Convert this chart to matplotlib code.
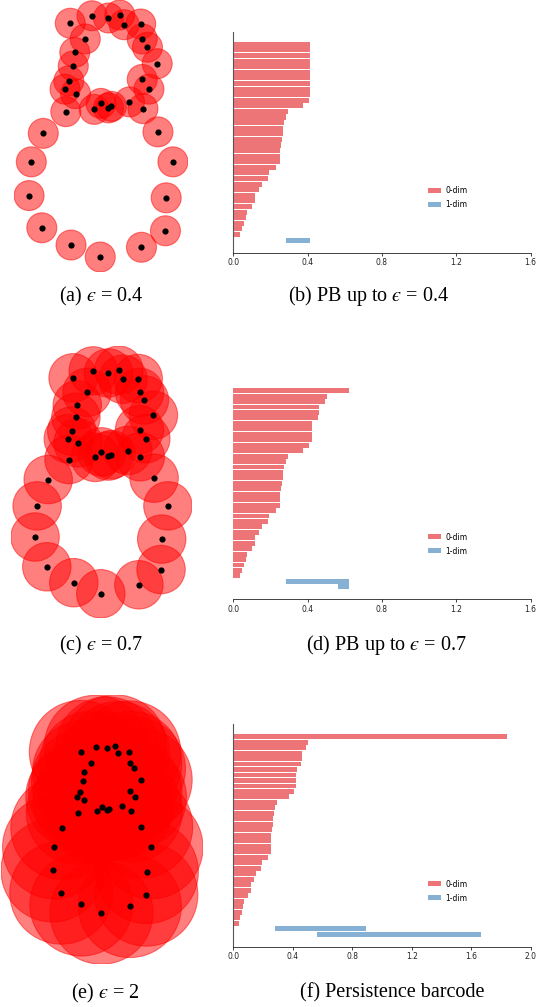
import numpy as np
import matplotlib
matplotlib.use("Agg")
import matplotlib.pyplot as plt
from matplotlib.patches import Circle

# point cloud (figure-eight shaped sample)
pts_x = [-0.40, -0.11, 0.11, 0.26, 0.32, 0.54, -0.20, 0.56, 0.63, -0.34,
         -0.36, 0.76, -0.42, 0.56, -0.47, -0.33, 0.65, 0.01, 0.11, 0.15,
         -0.08, 0.39, 0.57, -0.46, -0.76, 0.77, -0.92, 0.97, -0.95, 0.88,
         -0.78, 0.87, -0.39, 0.00, 0.55]
pts_y = [1.50, 1.60, 1.57, 1.61, 1.48, 1.49, 1.29, 1.29, 1.18, 1.11,
         0.93, 0.96, 0.73, 0.75, 0.62, 0.56, 0.62, 0.43, 0.37, 0.39,
         0.35, 0.45, 0.36, 0.32, 0.03, 0.05, -0.35, -0.35, -0.80, -0.83,
         -1.23, -1.27, -1.46, -1.62, -1.49]

eps_vals = [0.4, 0.7, 2]

# persistence barcode: 0-dim bars all born at 0
dim0_death = [1.84, 0.503, 0.491, 0.462, 0.462, 0.455, 0.426, 0.421, 0.421, 0.421,
              0.408, 0.375, 0.294, 0.281, 0.273, 0.267, 0.267, 0.261, 0.254, 0.253,
              0.253, 0.253, 0.232, 0.193, 0.186, 0.153, 0.140, 0.118, 0.118, 0.100,
              0.073, 0.066, 0.058, 0.046, 0.037]
dim1_birth = [0.281, 0.564]
dim1_death = [0.892, 1.666]
bar_cutoff = [0.41, 0.62, None]
bar_xmax = [1.6, 1.6, 2.0]

EPS = "$\u03f5$"
captions_left = [f"(a) {EPS} = 0.4", f"(c) {EPS} = 0.7", f"(e) {EPS} = 2"]
captions_right = [f"(b) PB up to {EPS} = 0.4", f"(d) PB up to {EPS} = 0.7",
                  "(f) Persistence barcode"]

plt.rcParams["mathtext.fontset"] = "stix"

W, H = 549, 1007
fig = plt.figure(figsize=(W / 100, H / 100), dpi=100)


def px_axes(x0, y0, x1, y1):
    return fig.add_axes([x0 / W, 1 - y1 / H, (x1 - x0) / W, (y1 - y0) / H])


red0 = "#e41a1c"
blue1 = "#377eb8"

# left column: balls of radius eps/2 around the points
ball_boxes = [(10, 0, 192, 272), (10, 346, 193, 618), (1, 692, 203, 967)]
for eps, box in zip(eps_vals, ball_boxes):
    ax = px_axes(*box)
    r = eps / 2
    for x, y in zip(pts_x, pts_y):
        ax.add_patch(Circle((x, y), r, facecolor="red", edgecolor="red",
                            alpha=0.5, lw=0.8))
    ax.scatter(pts_x, pts_y, s=20, color="black", zorder=3, lw=0)
    ax.set_xlim(min(pts_x) - r, max(pts_x) + r)
    ax.set_ylim(min(pts_y) - r, max(pts_y) + r)
    ax.set_aspect("equal")
    ax.axis("off")

# right column: barcodes
bar_boxes = [(233.3, 31.7, 530.7, 252.7), (233.3, 378.2, 530.7, 599.3),
             (233.3, 724, 530.7, 946.7)]
for k, box in enumerate(bar_boxes):
    ax = px_axes(*box)
    cut = bar_cutoff[k]
    d0 = np.array(dim0_death)
    if cut is not None:
        d0 = np.minimum(d0, cut)
    rows = np.arange(len(d0))
    ax.barh(rows, d0, left=0, height=0.9, color=red0, alpha=0.6, lw=0, label="0-dim")
    b1, e1 = [], []
    for b, d in zip(dim1_birth, dim1_death):
        if cut is not None:
            if b >= cut:
                continue
            d = min(d, cut)
        b1.append(b)
        e1.append(d)
    rows1 = len(d0) + np.arange(len(b1))
    ax.barh(rows1, np.array(e1) - np.array(b1), left=b1, height=0.9,
            color=blue1, alpha=0.6, lw=0, label="1-dim")
    ax.invert_yaxis()
    ax.set_xlim(0, bar_xmax[k])
    ticks = np.arange(0, bar_xmax[k] + 0.01, 0.4)
    ax.set_xticks(ticks)
    ax.set_xticklabels([f"{v:.1f}" for v in ticks])
    ax.set_yticks([])
    ax.tick_params(axis="x", labelsize=5.5, length=2.5, width=0.6, pad=1.5,
                   colors="#222222")
    for s in ["top", "right"]:
        ax.spines[s].set_visible(False)
    if k == 1:
        ax.spines["left"].set_visible(False)
    ax.spines["left"].set_linewidth(0.8)
    ax.spines["left"].set_color("#555555")
    ax.spines["bottom"].set_linewidth(0.6)
    ax.spines["bottom"].set_color("#222222")
    ax.legend(loc="center left", bbox_to_anchor=(0.655, 0.25), frameon=False,
              fontsize=5.5, handlelength=1.75, handleheight=0.6,
              handletextpad=0.5, labelspacing=0.65, borderpad=0, borderaxespad=0)

cap_font = ["Liberation Serif", "DejaVu Serif"]
cap_y = [296, 645, 993]
left_x = [101, 101, 105]
right_x = [369, 386, 392]
for i in range(3):
    fig.text(left_x[i] / W, 1 - cap_y[i] / H, captions_left[i], ha="center",
             va="center", fontsize=14.5, family=cap_font)
    fig.text(right_x[i] / W, 1 - cap_y[i] / H, captions_right[i], ha="center",
             va="center", fontsize=14.5, family=cap_font)

fig.savefig("out.png", dpi=100)
